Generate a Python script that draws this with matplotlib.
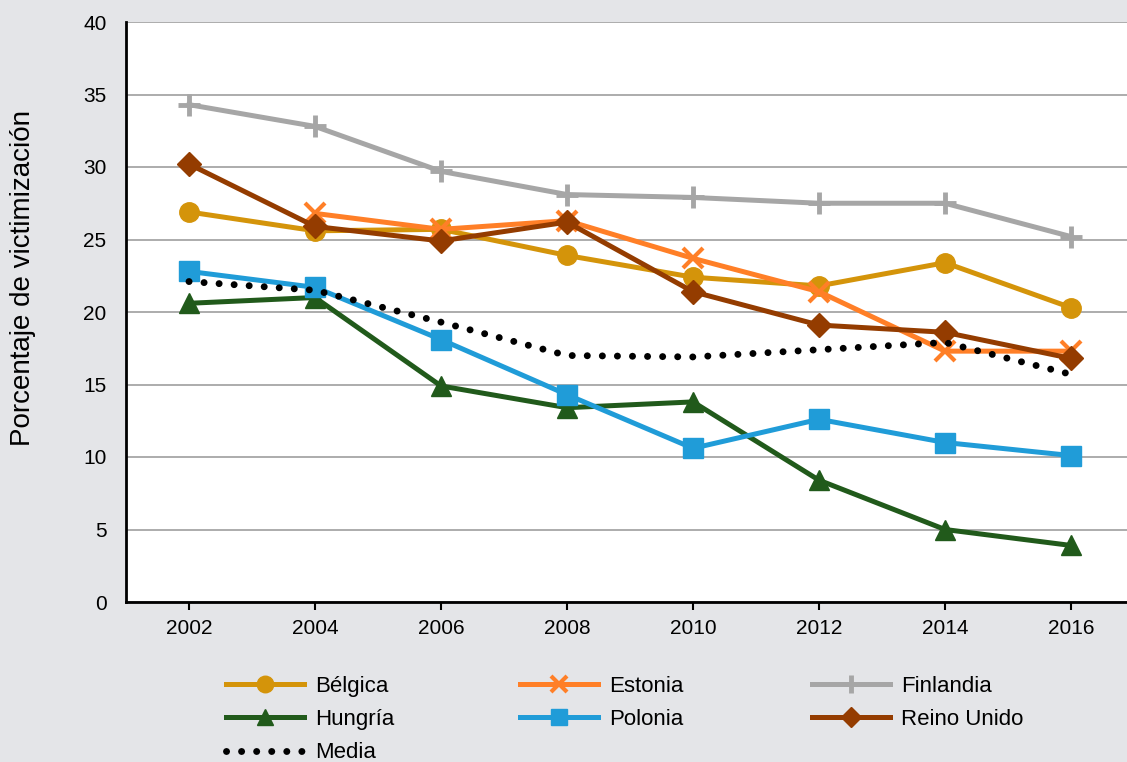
import matplotlib.pyplot as plt

plt.rcParams['font.family'] = ['Liberation Sans', 'DejaVu Sans']

years = [2002, 2004, 2006, 2008, 2010, 2012, 2014, 2016]
belgica = [26.9, 25.6, 25.7, 23.9, 22.4, 21.8, 23.4, 20.3]
estonia = [None, 26.8, 25.7, 26.3, 23.7, 21.4, 17.3, 17.3]
finlandia = [34.3, 32.8, 29.7, 28.1, 27.9, 27.5, 27.5, 25.2]
hungria = [20.6, 21.0, 14.9, 13.4, 13.8, 8.4, 5.0, 3.9]
polonia = [22.8, 21.7, 18.1, 14.3, 10.6, 12.6, 11.0, 10.1]
reino_unido = [30.2, 25.9, 24.9, 26.2, 21.4, 19.1, 18.6, 16.8]
media = [22.1, 21.5, 19.3, 17.0, 16.9, 17.4, 17.9, 15.7]

bg = '#e4e5e8'
fig = plt.figure(figsize=(11.27, 7.62), dpi=100, facecolor=bg)
ax = fig.add_axes([126/1127, 160/762, 1008/1127, 580/762])
ax.set_facecolor('white')

lw = 3.6
h_bel, = ax.plot(years, belgica, color='#d4940a', lw=lw, marker='o', ms=14, label='Bélgica', zorder=3)
x_est = [y for y, v in zip(years, estonia) if v is not None]
v_est = [v for v in estonia if v is not None]
h_est, = ax.plot(x_est, v_est, color='#ff7f27', lw=lw, marker='x', ms=14, mew=3, label='Estonia', zorder=3)
h_fin, = ax.plot(years, finlandia, color='#a6a6a6', lw=lw, marker='+', ms=16, mew=3.5, label='Finlandia', zorder=3)
h_hun, = ax.plot(years, hungria, color='#215a1b', lw=lw, marker='^', ms=14, label='Hungría', zorder=3)
h_pol, = ax.plot(years, polonia, color='#209cd8', lw=lw, marker='s', ms=14, label='Polonia', zorder=3)
h_ru, = ax.plot(years, reino_unido, color='#943c00', lw=lw, marker='D', ms=12, label='Reino Unido', zorder=3)
h_med, = ax.plot(years, media, color='black', lw=5, ls=(0, (0.01, 2.16)),
                 dash_capstyle='round', label='Media', zorder=4)

ax.set_xlim(2001, 2017)
ax.set_ylim(0, 40)
ax.set_xticks(years)
ax.set_yticks(range(0, 41, 5))
ax.yaxis.grid(True, color='#a6a6a6', lw=1.3)
ax.set_axisbelow(True)
for s in ['top', 'right']:
    ax.spines[s].set_visible(False)
for s in ['left', 'bottom']:
    ax.spines[s].set_linewidth(2)
    ax.spines[s].set_color('black')
ax.tick_params(axis='y', length=0, pad=14, labelsize=15)
ax.tick_params(axis='x', length=6, width=1.5, pad=6, labelsize=15)
ax.set_ylabel('Porcentaje de victimización', fontsize=20)
ax.yaxis.set_label_coords(-0.089, 0.559)

cols = [[h_bel, h_hun, h_med], [h_est, h_pol], [h_fin, h_ru]]
xs = [226, 520, 812]
for hs, x in zip(cols, xs):
    leg = fig.legend(handles=hs, loc='upper left', bbox_to_anchor=(x/1127, 1 - 676/762),
                     frameon=False, fontsize=16, handlelength=3.5, handletextpad=0.5,
                     labelspacing=0.55, markerscale=0.85, borderaxespad=0, borderpad=0)

fig.savefig('out.png', dpi=100, facecolor=bg)
